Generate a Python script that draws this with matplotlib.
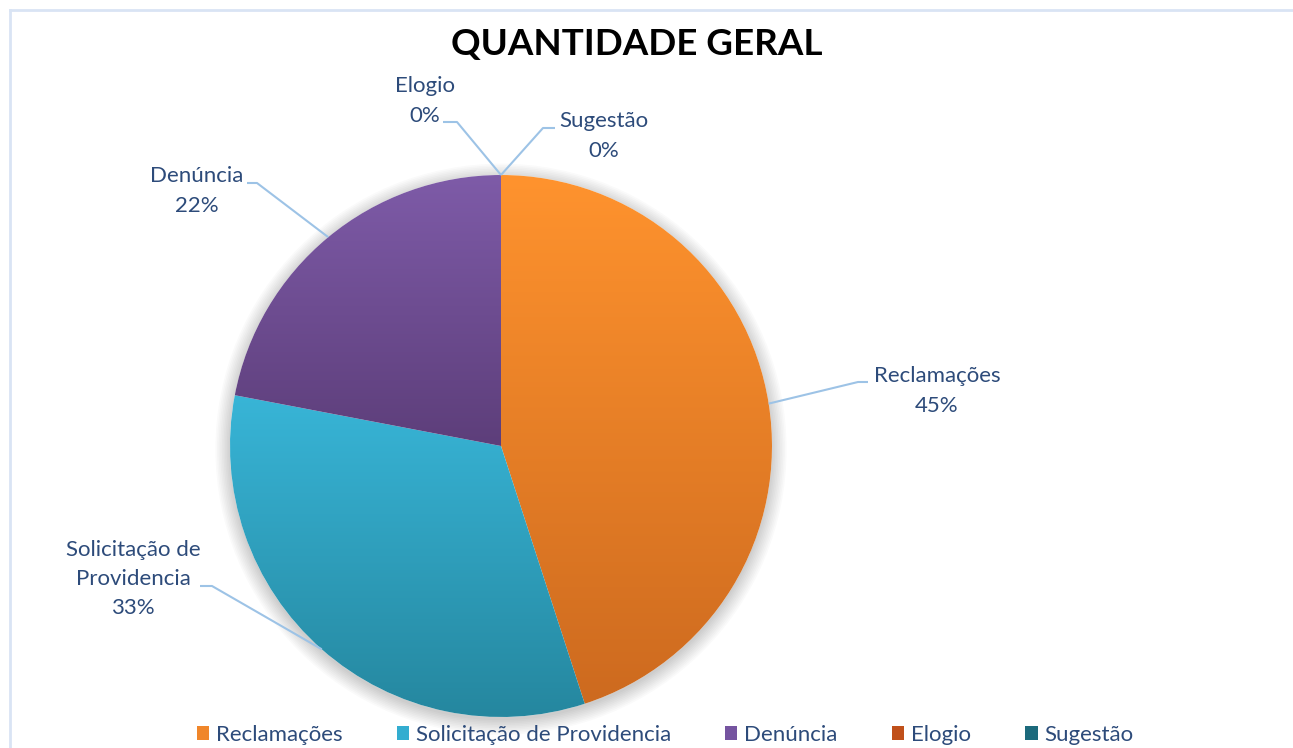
import numpy as np
import matplotlib
matplotlib.use("Agg")
import matplotlib.pyplot as plt
from matplotlib.colors import LinearSegmentedColormap
from matplotlib.patches import Patch, Circle
from matplotlib.lines import Line2D

# ---------------- data ----------------
categories = ['Reclamações', 'Solicitação de Providencia', 'Denúncia', 'Elogio', 'Sugestão']
label_names = ['Reclamações', 'Solicitação de\nProvidencia', 'Denúncia', 'Elogio', 'Sugestão']
values = [45, 33, 22, 0, 0]
title = 'QUANTIDADE GERAL'

# colours (top, bottom of gradient) and legend colour
grad_top = ['#FF932E', '#38B5D7', '#7E5BA8', '#C8581C', '#1F6F80']
grad_bot = ['#CD6A1F', '#25879F', '#5D3E7A', '#A8461A', '#185A68']
legend_cols = ['#F0862A', '#33ADD0', '#7554A0', '#C0501A', '#1C6A7C']
text_col = '#2D4B7A'
leader_col = '#9DC3E6'

# ---------------- layout ----------------
W, H = 1293, 748
CX, CY, R = 501, 446, 271   # pie centre / radius in pixels

def px(x, y):
    return ((x - CX) / R, (CY - y) / R)

fig = plt.figure(figsize=(W / 100, H / 100), dpi=100)
ax = fig.add_axes([0, 0, 1, 1])
fig.patch.set_facecolor('white')

# soft shadow
for i in range(10):
    ax.add_patch(Circle((0, -0.012), 1.0 + i * 0.006, color='black',
                        alpha=0.018, lw=0, zorder=0))
ax.add_patch(Circle((0, 0), 1.0, color='white', lw=0, zorder=0.5))

wedges, _ = ax.pie(values, startangle=90, counterclock=False, radius=1,
                   center=(0, 0), wedgeprops=dict(linewidth=0))

for i, w in enumerate(wedges):
    w.set_zorder(1)
    if values[i] == 0:
        w.set_visible(False)
        continue
    w.set_facecolor('none')
    bb = w.get_path().get_extents()
    cmap = LinearSegmentedColormap.from_list('g', [grad_top[i], grad_bot[i]])
    grad = np.linspace(0, 1, 256).reshape(-1, 1)
    im = ax.imshow(grad, cmap=cmap, aspect='auto', origin='upper',
                   extent=(bb.x0, bb.x1, bb.y0, bb.y1), zorder=1,
                   interpolation='bilinear')
    im.set_clip_path(w)

ax.set_xlim(-CX / R, (W - CX) / R)
ax.set_ylim((CY - H) / R, CY / R)
ax.set_aspect('auto')
ax.axis('off')

# labels and leader lines
total = sum(values)
label_pos = [(937, 391), (133, 579), (197, 191), (425, 101), (604, 136)]
elbows = [((858, 382), (868, 382)),
          ((212, 586), (200, 586)),
          ((257, 183), (247, 183)),
          ((457, 122), (443, 122)),
          ((543, 128), (555, 128))]
lab_font = ['Lato', 'DejaVu Sans']
for i, w in enumerate(wedges):
    mid = np.deg2rad((w.theta1 + w.theta2) / 2)
    sx, sy = np.cos(mid), np.sin(mid)
    e1 = px(*elbows[i][0])
    e2 = px(*elbows[i][1])
    ax.plot([sx, e1[0], e2[0]], [sy, e1[1], e2[1]], color=leader_col,
            lw=1.5, zorder=2, solid_capstyle='butt')
    pct = f"{values[i] / total * 100:.0f}%"
    tx, ty = px(*label_pos[i])
    ax.text(tx, ty, f"{label_names[i]}\n{pct}", ha='center', va='center',
            multialignment='center', fontsize=16, color=text_col,
            family=lab_font, linespacing=1.58, zorder=3)

# title
fig.text(637 / W, 1 - 44 / H, title, ha='center', va='center',
         fontsize=26.5, fontweight='bold', color='black', family=['Lato', 'DejaVu Sans'])

# legend
handles = [Patch(facecolor=c, edgecolor='none') for c in legend_cols]
leg = fig.legend(handles, categories, loc='center', ncol=5,
                 bbox_to_anchor=(665 / W, 1 - 735 / H), frameon=False,
                 prop={'family': lab_font, 'size': 16},
                 handlelength=0.55, handleheight=0.55, handletextpad=0.3,
                 columnspacing=2.45, borderpad=0, borderaxespad=0)
for t in leg.get_texts():
    t.set_color(text_col)

# chart border (light blue)
fig.add_artist(Line2D([10 / W, 1], [1 - 10 / H, 1 - 10 / H],
                      transform=fig.transFigure, color='#D9E4F4', lw=2))
fig.add_artist(Line2D([10 / W, 10 / W], [0, 1 - 10 / H],
                      transform=fig.transFigure, color='#D9E4F4', lw=2))

fig.savefig('out.png', dpi=100)
